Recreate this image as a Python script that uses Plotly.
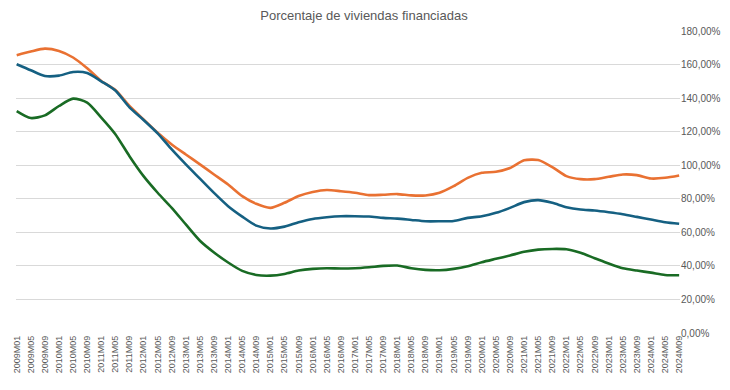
import plotly.graph_objects as go

periods = ["2009M01","2009M05","2009M09","2010M01","2010M05","2010M09","2011M01","2011M05","2011M09",
           "2012M01","2012M05","2012M09","2013M01","2013M05","2013M09","2014M01","2014M05","2014M09",
           "2015M01","2015M05","2015M09","2016M01","2016M05","2016M09","2017M01","2017M05","2017M09",
           "2018M01","2018M05","2018M09","2019M01","2019M05","2019M09","2020M01","2020M05","2020M09",
           "2021M01","2021M05","2021M09","2022M01","2022M05","2022M09","2023M01","2023M05","2023M09",
           "2024M01","2024M05","2024M09"]

serie_naranja = [165.6,167.8,169.5,168.1,164.2,157.8,150.2,144.8,135.3,127.3,119.4,112.4,106.4,100.5,94.5,
                 88.5,81.6,77.0,74.6,77.6,81.6,84.0,85.2,84.5,83.6,82.2,82.4,82.8,82.0,82.0,83.6,87.5,
                 92.5,95.5,96.1,98.3,102.9,103.1,98.9,93.5,91.7,91.7,93.1,94.5,94.1,92.1,92.5,93.9]

serie_azul = [160.2,156.6,153.2,153.4,155.6,155.0,150.0,144.5,134.5,127.0,119.0,109.4,100.5,92.0,83.5,
              75.6,69.4,64.0,62.3,63.4,66.0,68.0,69.0,69.6,69.6,69.4,68.6,68.2,67.4,66.6,66.6,66.8,
              68.6,69.6,71.6,74.6,78.0,79.2,77.6,75.0,73.6,73.0,72.0,70.8,69.2,67.6,66.0,65.1]

serie_verde = [132.3,128.1,129.7,135.3,139.7,137.3,128.4,118.5,105.4,93.5,83.6,74.6,64.7,55.0,48.0,
               42.0,37.0,34.6,34.2,35.2,37.2,38.2,38.6,38.4,38.6,39.2,40.0,40.2,38.6,37.6,37.4,38.2,
               39.8,42.2,44.2,46.2,48.4,49.7,50.1,49.9,47.8,44.6,41.4,38.6,37.2,36.0,34.6,34.4]

font_family = "Liberation Sans, Arial, sans-serif"

fig = go.Figure()
for vals, col in [(serie_naranja, "#E97132"), (serie_azul, "#156082"), (serie_verde, "#196B24")]:
    fig.add_trace(go.Scatter(x=periods, y=vals, mode="lines",
                             line=dict(color=col, width=2.6, shape="spline", smoothing=0.7),
                             showlegend=False, hoverinfo="skip"))

fig.update_layout(
    width=722, height=382,
    margin=dict(l=4, r=50, t=23, b=57),
    paper_bgcolor="white", plot_bgcolor="white",
    separators=",.",
    title=dict(text="Porcentaje de viviendas financiadas", x=356/722, xanchor="center",
               y=1 - 7/382, yanchor="middle",
               font=dict(family=font_family, size=13, color="#595959")),
    xaxis=dict(type="category", range=[-0.05, 47.06], tickangle=-90,
               showgrid=False, showline=False, zeroline=False, ticks="",
               tickfont=dict(family=font_family, size=9, color="#595959")),
    yaxis=dict(side="right", range=[0, 180], dtick=20, tickformat=".2f", ticksuffix="%",
               showgrid=True, gridcolor="#D9D9D9", gridwidth=1, zeroline=False,
               showline=False, ticks="",
               tickfont=dict(family=font_family, size=10, color="#595959")),
    shapes=[
        dict(type="line", xref="paper", yref="paper", x0=715/668, x1=715/668, y0=-1, y1=2,
             line=dict(color="#D9D9D9", width=1)),
    ],
)

fig.write_html("out.html")
